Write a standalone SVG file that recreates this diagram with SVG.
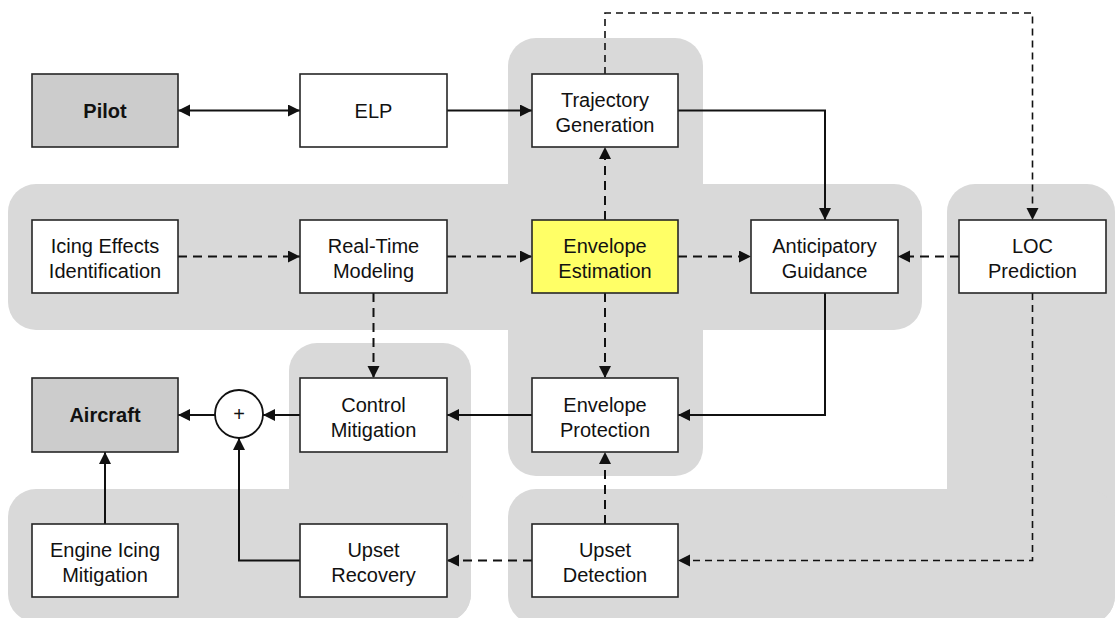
<svg xmlns="http://www.w3.org/2000/svg" width="1115" height="618" viewBox="0 0 1115 618">
<style>
.bg{fill:#d9d9d9;stroke:none}
.box rect{fill:#ffffff;stroke:#262626;stroke-width:1.6}
.box.dark rect{fill:#cccccc}
.box.yel rect{fill:#ffff66}
.box text{font-family:"Liberation Sans",Arial,sans-serif;font-size:20px;fill:#111;text-anchor:middle}
.box.dark text{font-weight:bold}
.c{fill:none;stroke:#111;stroke-width:2}
.d{fill:none;stroke:#111;stroke-width:2;stroke-dasharray:9 6}
.t{fill:none;stroke:#111;stroke-width:1.6;stroke-dasharray:7 5}
</style>
<defs>
<marker id="ah" markerUnits="userSpaceOnUse" markerWidth="13" markerHeight="13" refX="12" refY="6" orient="auto-start-reverse">
<path d="M0,0 L12,6 L0,12 z" fill="#111"/>
</marker>
</defs>
<g id="regions">
<rect class="bg" x="8" y="184" width="914" height="146" rx="28"/>
<rect class="bg" x="508" y="38" width="195" height="438" rx="28"/>
<rect class="bg" x="289" y="343" width="182" height="279" rx="28"/>
<rect class="bg" x="8" y="489" width="463" height="133" rx="28"/>
<rect class="bg" x="947" y="184" width="168" height="440" rx="28"/>
<rect class="bg" x="508" y="489" width="607" height="135" rx="28"/>
</g>
<g id="connectors">
<path class="c" d="M178,110.5 H300" marker-start="url(#ah)" marker-end="url(#ah)"/>
<path class="c" d="M447,110.5 H532" marker-end="url(#ah)"/>
<path class="c" d="M678,110.5 H825 V220" marker-end="url(#ah)"/>
<path class="t" d="M605,74 V13 H1032.5 V220" marker-end="url(#ah)"/>
<path class="d" d="M605,220 V147" marker-end="url(#ah)"/>
<path class="d" d="M178,256.5 H300" marker-end="url(#ah)"/>
<path class="d" d="M447,256.5 H532" marker-end="url(#ah)"/>
<path class="d" d="M678,256.5 H751" marker-end="url(#ah)"/>
<path class="d" d="M959,256.5 H898" marker-end="url(#ah)"/>
<path class="d" d="M373.5,293 V378" marker-end="url(#ah)"/>
<path class="d" d="M605,293 V378" marker-end="url(#ah)"/>
<path class="c" d="M825,293 V415 H678" marker-end="url(#ah)"/>
<path class="c" d="M532,415 H447" marker-end="url(#ah)"/>
<path class="c" d="M300,415 H263" marker-end="url(#ah)"/>
<path class="c" d="M215,415 H178" marker-end="url(#ah)"/>
<path class="c" d="M105,524 V452" marker-end="url(#ah)"/>
<path class="c" d="M300,560.5 H239 V438" marker-end="url(#ah)"/>
<path class="d" d="M605,524 V452" marker-end="url(#ah)"/>
<path class="d" d="M532,560.5 H447" marker-end="url(#ah)"/>
<path class="t" d="M1032.5,293 V560.5 H678" marker-end="url(#ah)"/>
</g>
<g id="pilot" class="box dark"><rect x="32" y="74" width="146" height="73"/><text x="105" y="117.5">Pilot</text></g>
<g id="elp" class="box"><rect x="300" y="74" width="147" height="73"/><text x="373.5" y="117.5">ELP</text></g>
<g id="trajectory" class="box"><rect x="532" y="74" width="146" height="73"/><text x="605" y="107">Trajectory</text><text x="605" y="132">Generation</text></g>
<g id="icing" class="box"><rect x="32" y="220" width="146" height="73"/><text x="105" y="253">Icing Effects</text><text x="105" y="278">Identification</text></g>
<g id="realtime" class="box"><rect x="300" y="220" width="147" height="73"/><text x="373.5" y="253">Real-Time</text><text x="373.5" y="278">Modeling</text></g>
<g id="estimation" class="box yel"><rect x="532" y="220" width="146" height="73"/><text x="605" y="253">Envelope</text><text x="605" y="278">Estimation</text></g>
<g id="anticipatory" class="box"><rect x="751" y="220" width="147" height="73"/><text x="824.5" y="253">Anticipatory</text><text x="824.5" y="278">Guidance</text></g>
<g id="loc" class="box"><rect x="959" y="220" width="147" height="73"/><text x="1032.5" y="253">LOC</text><text x="1032.5" y="278">Prediction</text></g>
<g id="aircraft" class="box dark"><rect x="32" y="378" width="146" height="74"/><text x="105" y="422">Aircraft</text></g>
<g id="sum"><circle cx="239" cy="414" r="24" fill="#fff" stroke="#111" stroke-width="1.8"/><text x="239" y="421" font-family="Liberation Sans, Arial, sans-serif" font-size="20" text-anchor="middle" fill="#111">+</text></g>
<g id="control" class="box"><rect x="300" y="378" width="147" height="74"/><text x="373.5" y="411.5">Control</text><text x="373.5" y="436.5">Mitigation</text></g>
<g id="protection" class="box"><rect x="532" y="378" width="146" height="74"/><text x="605" y="411.5">Envelope</text><text x="605" y="436.5">Protection</text></g>
<g id="engine" class="box"><rect x="32" y="524" width="146" height="73"/><text x="105" y="557">Engine Icing</text><text x="105" y="582">Mitigation</text></g>
<g id="recovery" class="box"><rect x="300" y="524" width="147" height="73"/><text x="373.5" y="557">Upset</text><text x="373.5" y="582">Recovery</text></g>
<g id="detection" class="box"><rect x="532" y="524" width="146" height="73"/><text x="605" y="557">Upset</text><text x="605" y="582">Detection</text></g>
</svg>
